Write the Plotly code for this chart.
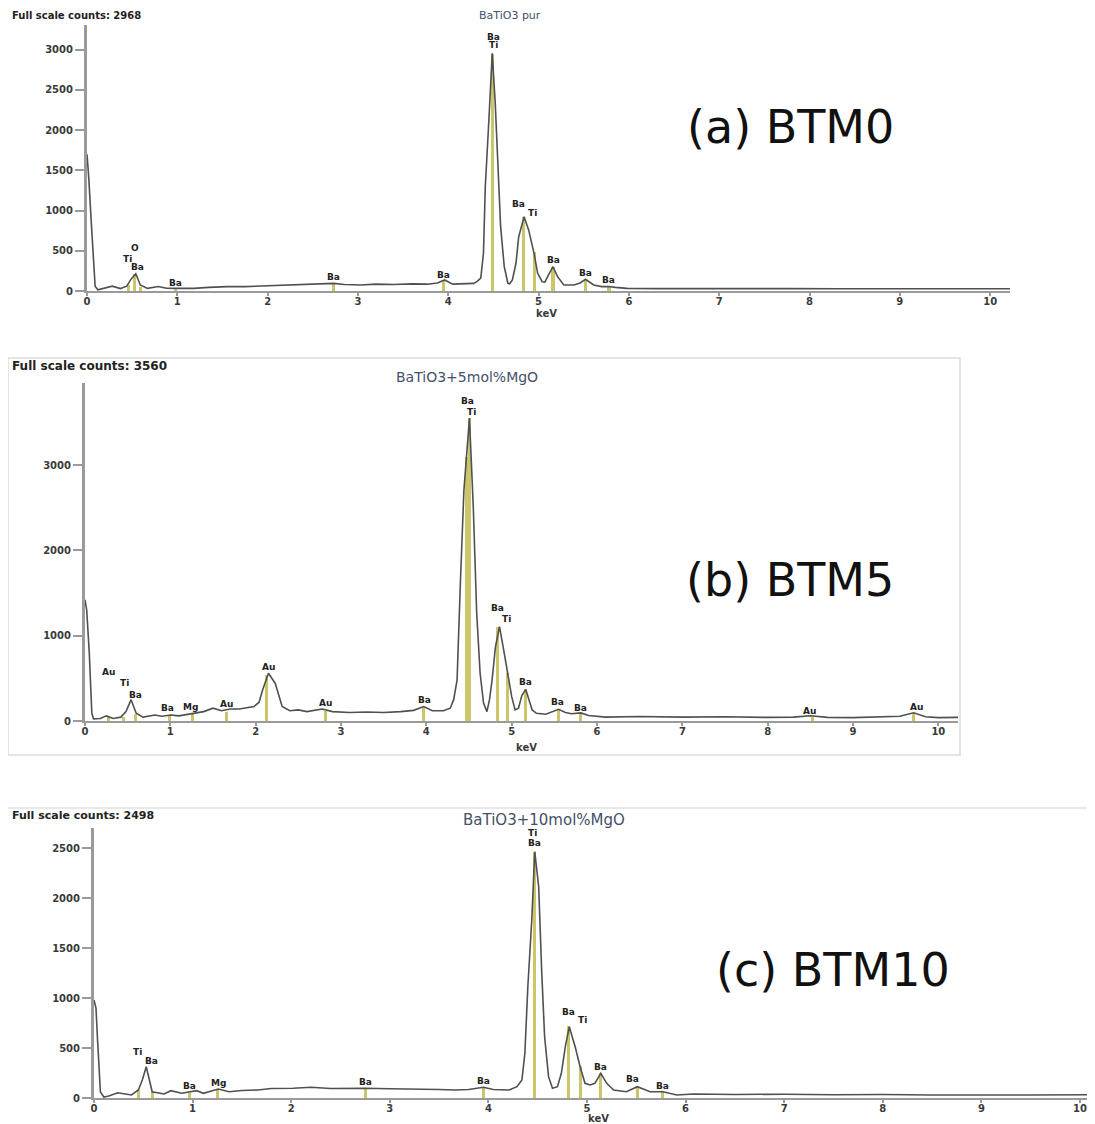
import plotly.graph_objects as go

# page window is 1095x1124; the page body adds an 8px margin, so the figure is 8px smaller
WIN_W, WIN_H = 1095, 1124
OFF = 8
W, H = WIN_W - OFF, WIN_H - OFF

# ---------------- data ----------------
# Panel (a) BTM0 : BaTiO3 pur
kev_a = [0.00, 0.02, 0.045, 0.065, 0.09, 0.12, 0.18, 0.28, 0.37, 0.44, 0.49, 0.54, 0.59, 0.67, 0.79, 0.88,
         0.98, 1.18, 1.35, 1.55, 1.75, 1.92, 2.10, 2.29, 2.50, 2.73, 2.85, 3.03, 3.20, 3.40, 3.60, 3.77,
         3.88, 3.96, 4.05, 4.15, 4.28, 4.32, 4.36, 4.39, 4.41, 4.45, 4.487, 4.52, 4.55, 4.58, 4.62, 4.66,
         4.68, 4.71, 4.75, 4.78, 4.84, 4.89, 4.95, 4.99, 5.04, 5.07, 5.11, 5.16, 5.21, 5.28, 5.39, 5.46,
         5.52, 5.57, 5.61, 5.70, 5.78, 5.85, 5.98, 6.30, 6.80, 7.30, 7.80, 8.30, 8.80, 9.30, 9.80, 10.22]
cnt_a = [1700, 1400, 900, 450, 60, 15, 30, 60, 30, 60, 150, 215, 75, 33, 55, 35,
         33, 33, 45, 55, 55, 62, 70, 75, 80, 95, 80, 75, 85, 80, 88, 85,
         100, 137, 85, 90, 95, 120, 160, 469, 1297, 2127, 2955, 2340, 1505, 800, 302, 96,
         90, 137, 345, 675, 924, 760, 469, 220, 116, 110, 200, 302, 178, 75, 75, 100,
         145, 100, 75, 55, 55, 45, 33, 30, 33, 28, 30, 28, 30, 28, 30, 28]
mk_pos_a = [0.46, 0.526, 0.59, 0.98, 2.73, 3.95, 4.49, 4.83, 4.95, 5.16, 5.52, 5.78]
mk_h_a = [75, 210, 52, 30, 100, 135, 2950, 920, 480, 302, 140, 55]
lab_a = ["O", "Ti", "Ba", "Ba", "Ba", "Ba", "Ba", "Ti", "Ba", "Ti", "Ba", "Ba", "Ba"]
lab_x_a = [0.526, 0.445, 0.56, 0.98, 2.73, 3.95, 4.50, 4.50, 4.78, 4.93, 5.16, 5.52, 5.77]
lab_y_a = [531, 398, 295, 96, 170, 199, 3163, 3060, 1078, 966, 390, 220, 137]

# Panel (b) BTM5 : BaTiO3+5mol%MgO
kev_b = [0.00, 0.02, 0.05, 0.067, 0.08, 0.10, 0.18, 0.25, 0.33, 0.42, 0.48, 0.54, 0.60, 0.68, 0.82, 0.90,
         1.01, 1.10, 1.20, 1.30, 1.39, 1.50, 1.60, 1.70, 1.81, 1.98, 2.04, 2.08, 2.15, 2.23, 2.31, 2.40,
         2.50, 2.60, 2.78, 2.90, 3.10, 3.30, 3.50, 3.70, 3.85, 3.97, 4.07, 4.20, 4.28, 4.32, 4.36, 4.40,
         4.44, 4.505, 4.55, 4.59, 4.63, 4.67, 4.71, 4.74, 4.77, 4.81, 4.857, 4.90, 4.95, 5.00, 5.04, 5.08,
         5.12, 5.165, 5.24, 5.29, 5.40, 5.48, 5.55, 5.63, 5.70, 5.81, 5.90, 6.10, 6.50, 7.00, 7.50, 8.00,
         8.30, 8.50, 8.70, 9.00, 9.30, 9.55, 9.71, 9.85, 10.00, 10.23]
cnt_b = [1420, 1300, 800, 400, 90, 25, 30, 60, 30, 45, 110, 250, 90, 45, 70, 55,
         70, 60, 75, 90, 110, 150, 120, 140, 140, 170, 220, 360, 560, 440, 170, 120,
         130, 110, 140, 110, 100, 105, 100, 110, 125, 170, 120, 120, 150, 250, 480, 1650,
         2700, 3550, 2510, 1265, 560, 210, 110, 250, 480, 870, 1105, 870, 560, 285, 130, 150,
         300, 370, 130, 90, 80, 110, 137, 100, 85, 95, 65, 45, 52, 45, 50, 42,
         45, 62, 42, 40, 45, 55, 97, 50, 40, 42]
mk_pos_b = [0.27, 0.455, 0.59, 0.99, 1.26, 1.66, 2.13, 2.82, 3.97, 4.47, 4.51, 4.83, 4.95, 5.165, 5.55, 5.81, 8.52, 9.71]
mk_h_b = [45, 45, 80, 60, 90, 110, 540, 120, 170, 3100, 3550, 1100, 560, 370, 137, 95, 45, 97]
lab_b = ["Au", "Ti", "Ba", "Ba", "Mg", "Au", "Au", "Au", "Ba", "Ba", "Ti", "Ba", "Ti", "Ba", "Ba", "Ba", "Au", "Au"]
lab_x_b = [0.28, 0.46, 0.59, 0.97, 1.24, 1.66, 2.15, 2.82, 3.98, 4.48, 4.525, 4.83, 4.94, 5.165, 5.54, 5.81, 8.49, 9.74]
lab_y_b = [580, 450, 305, 150, 160, 195, 636, 215, 246, 3755, 3620, 1330, 1195, 453, 226, 156, 117, 168]

# Panel (c) BTM10 : BaTiO3+10mol%MgO
kev_c = [0.00, 0.02, 0.035, 0.05, 0.065, 0.10, 0.15, 0.24, 0.38, 0.45, 0.49, 0.53, 0.565, 0.59, 0.71, 0.78,
         0.89, 1.04, 1.11, 1.26, 1.37, 1.50, 1.66, 1.80, 2.02, 2.20, 2.40, 2.60, 2.75, 3.00, 3.30, 3.50,
         3.66, 3.80, 3.95, 4.05, 4.21, 4.29, 4.34, 4.37, 4.40, 4.44, 4.47, 4.51, 4.54, 4.57, 4.61, 4.65,
         4.70, 4.74, 4.78, 4.82, 4.88, 4.93, 4.98, 5.03, 5.08, 5.14, 5.20, 5.27, 5.40, 5.51, 5.64, 5.77,
         5.91, 6.08, 6.50, 7.00, 7.50, 8.00, 8.50, 9.00, 9.50, 10.15]
cnt_c = [980, 900, 600, 250, 60, 10, 20, 53, 30, 80, 180, 313, 180, 63, 40, 73,
         47, 73, 47, 90, 63, 75, 80, 95, 97, 107, 95, 100, 97, 92, 90, 85,
         80, 85, 107, 85, 80, 113, 180, 447, 1113, 1780, 2463, 2113, 1280, 613, 213, 97,
         113, 247, 513, 713, 513, 313, 147, 130, 147, 247, 147, 80, 63, 113, 63, 63,
         30, 40, 35, 38, 32, 35, 30, 33, 30, 32]
mk_pos_c = [0.45, 0.59, 0.97, 1.25, 2.75, 3.95, 4.47, 4.81, 4.93, 5.14, 5.51, 5.77]
mk_h_c = [80, 63, 50, 90, 97, 107, 2460, 720, 320, 247, 113, 63]
lab_c = ["Ti", "Ba", "Ba", "Mg", "Ba", "Ba", "Ti", "Ba", "Ba", "Ti", "Ba", "Ba", "Ba"]
lab_x_c = [0.44, 0.58, 0.97, 1.26, 2.75, 3.95, 4.445, 4.47, 4.81, 4.95, 5.14, 5.46, 5.77]
lab_y_c = [463, 370, 123, 147, 163, 170, 2647, 2553, 863, 780, 313, 187, 123]

x_ticks = list(range(0, 11))
y_ticks_a = [0, 500, 1000, 1500, 2000, 2500, 3000]
y_ticks_b = [0, 1000, 2000, 3000]
y_ticks_c = [0, 500, 1000, 1500, 2000, 2500]

# ---------------- style ----------------
LINE_C = "#505050"
MARK_C = "#cbc66a"
AX_C = "#9a9a9a"
TXT_C = "#3a3a3a"
tickfont = dict(family="DejaVu Sans", size=10, color=TXT_C, weight="bold")
labfont = dict(family="DejaVu Sans", size=9, color="#222", weight="bold")


def px_x(p):
    # window pixel -> paper fraction
    return (p - OFF) / W


def px_y(p):
    return 1 - (p - OFF) / H


fig = go.Figure()

panels = [
    dict(k=kev_a, c=cnt_a, mp=mk_pos_a, mh=mk_h_a, lab=lab_a, lx=lab_x_a, ly=lab_y_a, bw=0.034,
         xs="x", ys="y"),
    dict(k=kev_b, c=cnt_b, mp=mk_pos_b, mh=mk_h_b, lab=lab_b, lx=lab_x_b, ly=lab_y_b, bw=0.036,
         xs="x2", ys="y2"),
    dict(k=kev_c, c=cnt_c, mp=mk_pos_c, mh=mk_h_c, lab=lab_c, lx=lab_x_c, ly=lab_y_c, bw=0.031,
         xs="x3", ys="y3"),
]

annotations = []
for p in panels:
    fig.add_trace(go.Bar(x=p["mp"], y=p["mh"], width=p["bw"], marker=dict(color=MARK_C, line=dict(width=0)),
                         xaxis=p["xs"], yaxis=p["ys"], showlegend=False, hoverinfo="skip"))
    fig.add_trace(go.Scatter(x=p["k"], y=p["c"], mode="lines", line=dict(color=LINE_C, width=1.6),
                             xaxis=p["xs"], yaxis=p["ys"], showlegend=False))
    for t, lx, ly in zip(p["lab"], p["lx"], p["ly"]):
        annotations.append(dict(text=t, x=lx, y=ly, xref=p["xs"], yref=p["ys"], showarrow=False,
                                font=labfont, xanchor="center", yanchor="middle"))


def xaxis(dom, rng, anchor):
    return dict(domain=dom, range=rng, anchor=anchor, tickvals=x_ticks, ticks="outside", ticklen=3,
                tickwidth=1.5, tickcolor=AX_C, showline=True, linecolor=AX_C, linewidth=1.5,
                showgrid=False, zeroline=False, tickfont=tickfont, ticklabelstandoff=-3,
                automargin=False, fixedrange=True)


def yaxis(dom, rng, ticks, anchor):
    return dict(domain=dom, range=rng, anchor=anchor, tickvals=ticks, ticks="outside", ticklen=9,
                tickwidth=1.5, tickcolor=AX_C, showline=True, linecolor=AX_C, linewidth=3,
                showgrid=False, zeroline=False, tickfont=tickfont, automargin=False, fixedrange=True)


layout = dict(
    width=W, height=H, margin=dict(l=0, r=0, t=0, b=0, pad=0, autoexpand=False),
    paper_bgcolor="white", plot_bgcolor="white",
    barmode="overlay", bargap=0,
    xaxis=xaxis([px_x(87), px_x(1010)], [0, 10.22], "y"),
    yaxis=yaxis([px_y(291), px_y(25)], [0, 3308], y_ticks_a, "x"),
    xaxis2=xaxis([px_x(85), px_x(958)], [0, 10.23], "y2"),
    yaxis2=yaxis([px_y(721), px_y(383)], [0, 3962], y_ticks_b, "x2"),
    xaxis3=xaxis([px_x(94), 1.0], [0, (WIN_W - 94) / 98.6], "y3"),
    yaxis3=yaxis([px_y(1098), px_y(828)], [0, 2700], y_ticks_c, "x3"),
)

hdr_bold = dict(family="DejaVu Sans", size=11, color="#222", weight="bold")
ttl_font = dict(family="DejaVu Sans", size=14, color="#44506a")
big_font = dict(family="DejaVu Sans", size=46, color="#111")
kev_font = dict(family="DejaVu Sans", size=10, color=TXT_C, weight="bold")

paper_texts = [
    ("Full scale counts: 2968", 10, 15, "left", dict(hdr_bold, size=10)),
    ("BaTiO3 pur", 510, 15, "center", dict(ttl_font, size=11)),
    ("Full scale counts: 3560", 10, 366, "left", dict(hdr_bold, size=12)),
    ("BaTiO3+5mol%MgO", 467, 377, "center", ttl_font),
    ("Full scale counts: 2498", 10, 815, "left", hdr_bold),
    ("BaTiO3+10mol%MgO", 544, 820, "center", dict(ttl_font, size=15)),
    ("(a) BTM0", 790, 127, "center", big_font),
    ("(b) BTM5", 790, 580, "center", big_font),
    ("(c) BTM10", 833, 970, "center", big_font),
    ("keV", 546, 313, "center", kev_font),
    ("keV", 526, 747, "center", kev_font),
    ("keV", 598, 1118, "center", kev_font),
]
for t, x, y, xa, f in paper_texts:
    annotations.append(dict(text=t, x=px_x(x), y=px_y(y), xref="paper", yref="paper", showarrow=False,
                            xanchor=xa, yanchor="middle", font=f))

shapes = [
    dict(type="rect", xref="paper", yref="paper", x0=px_x(8), x1=px_x(960), y0=px_y(755), y1=px_y(358),
         line=dict(color="#dcdcdc", width=1.5), layer="below"),
    dict(type="line", xref="paper", yref="paper", x0=0, x1=1, y0=px_y(808), y1=px_y(808),
         line=dict(color="#e0e0e0", width=1.5), layer="below"),
]

layout["annotations"] = annotations
layout["shapes"] = shapes
fig.update_layout(**layout)

fig.write_html("out.html")
